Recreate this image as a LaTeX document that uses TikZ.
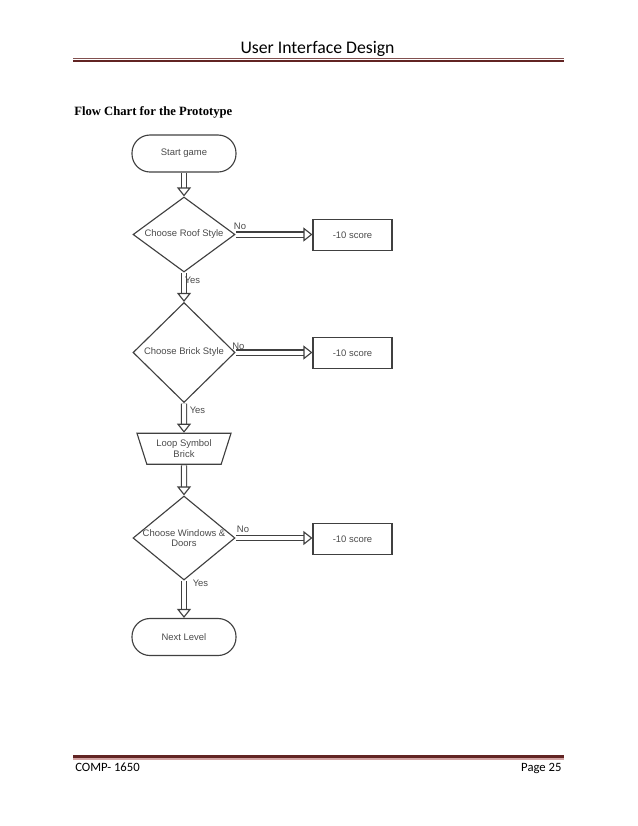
\documentclass[tikz,border=0pt]{standalone}
\usepackage{fontspec}
\setmainfont{Liberation Serif}
\newfontfamily\headfont{Carlito}
\newfontfamily\chartfont{Liberation Sans}
\usetikzlibrary{shapes.geometric, arrows.meta}
\definecolor{rulered}{HTML}{622423}
\definecolor{rulepink}{HTML}{D2A3A3}
\definecolor{chartgray}{HTML}{404040}
\definecolor{chartink}{HTML}{4A4A4A}
\tikzset{>=latex,
  chart/.style={draw=chartgray, line width=0.85pt, text=chartink, align=center,
    font=\chartfont\fontsize{7.1}{7.9}\selectfont},
  terminal/.style={chart, rectangle, rounded corners=13.5pt, minimum width=78pt, minimum height=27.75pt},
  decision/.style={chart, diamond, inner sep=0pt, minimum width=76.5pt},
  process/.style={chart, rectangle, minimum width=59.25pt, minimum height=23.25pt},
  loopbox/.style={chart, trapezium, trapezium left angle=119.4, trapezium right angle=119.4,
    trapezium stretches body, minimum width=70.5pt, minimum height=23.25pt, inner sep=0pt},
  flowline/.style={draw=chartgray, line width=0.85pt, double=white, double distance=3pt,
    shorten <=0.4pt, shorten >=6.3pt},
  flowtip/.style={draw=white, line width=0.4pt, shorten <=0.4pt,
    -{Triangle[open, color=chartgray, line width=0.85pt, length=6.75pt, width=10.5pt]}},
  answer/.style={text=chartink, align=center, inner sep=0pt,
    font=\chartfont\fontsize{7.1}{7.9}\selectfont}
}

\begin{document}
\begin{tikzpicture}[x=0.75pt, y=-0.75pt]
\useasboundingbox (0,0) rectangle (638,826);
% header and footer of the page
\node[anchor=base, inner sep=0pt, font=\headfont\fontsize{13.3}{15}\selectfont] (head) at (317.5,53.3) {User Interface Design};
\draw[rulered!80, line width=0.75pt] (73.3,58.8) -- (564.3,58.8);
\draw[rulered, line width=1.7pt] (73.3,61.2) -- (564.3,61.2);
\node[anchor=base west, inner sep=0pt, font=\bfseries\fontsize{9.5}{11}\selectfont] (title) at (74,115.7) {Flow Chart for the Prototype};
\draw[rulered, line width=1.95pt] (73.3,756.3) -- (564.3,756.3);
\draw[rulepink, line width=1.35pt] (73.3,758.9) -- (564.3,758.9);
\node[anchor=base west, inner sep=0pt, font=\headfont\fontsize{9.5}{11}\selectfont] (course) at (75,771) {COMP- 1650};
\node[anchor=base east, inner sep=0pt, font=\headfont\fontsize{9.5}{11}\selectfont] (page) at (561.7,771) {Page 25};

\node[terminal] (start) at (184,153.5) {Start game};
\node[decision, minimum height=56.25pt, label={[answer]center:Choose Roof Style}] (roof) at (184,234.5) {};
\node[process] (roofno) at (352.5,235) {-10 score};
\node[decision, minimum height=75pt, label={[answer]center:Choose Brick Style}] (brick) at (184,352.5) {};
\node[process] (brickno) at (352.5,353) {-10 score};
\node[loopbox] (loop) at (184,448.8) {Loop Symbol\\Brick};
\node[decision, minimum height=63pt, label={[answer]center:Choose Windows \&\\Doors}] (window) at (184,538) {};
\node[process] (windowno) at (352.5,539) {-10 score};
\node[terminal] (next) at (184,637) {Next Level};

\foreach \a/\b in {start/roof, roof/brick, brick/loop, loop/window, window/next}{
  \draw[flowline] (\a.south) -- (\b.north);
  \draw[flowtip] (\a.south) -- (\b.north);
}
\foreach \a/\b in {roof/roofno, brick/brickno, window/windowno}{
  \draw[flowline] (\a.east) -- (\a.east -| \b.west);
  \draw[flowtip] (\a.east) -- (\a.east -| \b.west);
}

\node[answer] (no1) at (240,226) {No};
\node[answer] (no2) at (238.3,346) {No};
\node[answer] (no3) at (243,529.3) {No};
\node[answer] (yes1) at (192.5,280.5) {Yes};
\node[answer] (yes2) at (197.5,410.7) {Yes};
\node[answer] (yes3) at (200.5,583.5) {Yes};
\end{tikzpicture}
\end{document}
